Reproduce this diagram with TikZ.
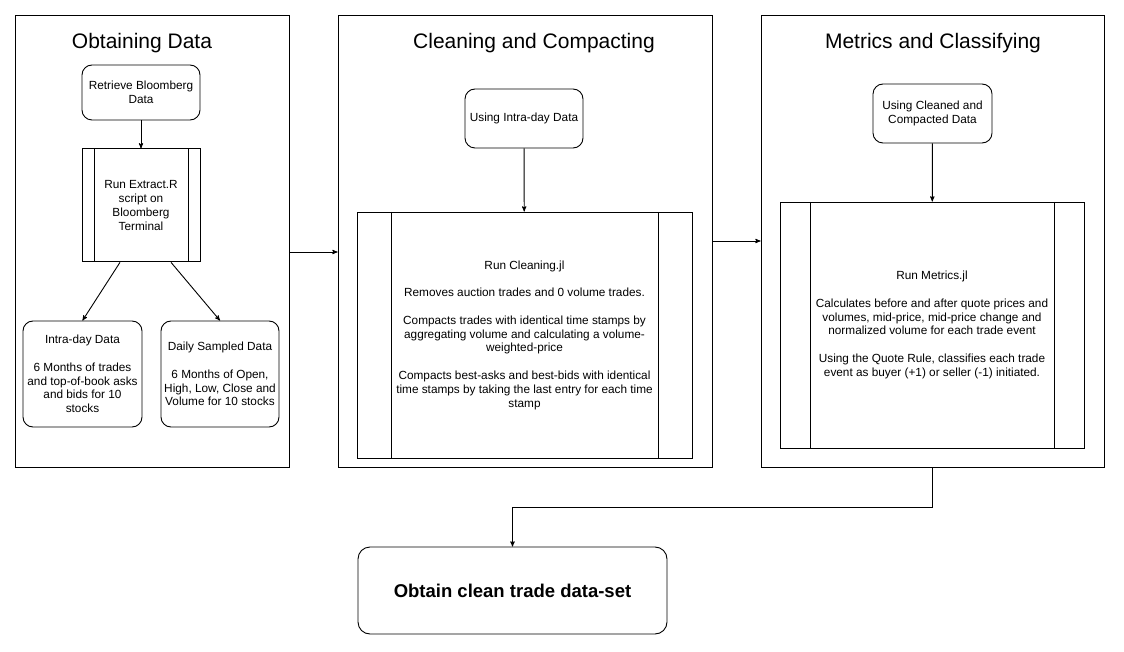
\documentclass[tikz,border=0pt]{standalone}
\usepackage{fontspec}
\setmainfont{Liberation Sans}
\usetikzlibrary{shapes, arrows}
\usetikzlibrary{positioning}

\begin{document}
\begin{tikzpicture}
[x=1pt, y=-1pt, line width=0.9pt,
stage/.style     ={rectangle, draw, minimum height=452pt, inner sep=0pt},
stagetitle/.style={font=\fontsize{21}{25}\selectfont, inner sep=0pt},
block/.style     ={rectangle, draw, rounded corners=10pt, align=center, minimum width=118pt, minimum height=57pt, font=\fontsize{11.8}{13.8}\selectfont, inner sep=2pt},
runbox/.style    ={rectangle, draw, align=center, minimum height=246pt, font=\fontsize{11.8}{13.8}\selectfont, inner sep=2pt,
                   path picture={\draw ([xshift=#1]path picture bounding box.north west) -- ([xshift=#1]path picture bounding box.south west)
                                       ([xshift=-#1]path picture bounding box.north east) -- ([xshift=-#1]path picture bounding box.south east);}},
result/.style    ={rectangle, draw, rounded corners=12pt, minimum width=309pt, minimum height=87pt, font=\bfseries\fontsize{18.5}{22}\selectfont},
line/.style      ={draw, -stealth'},
node distance = 28pt]

\useasboundingbox (0,0) rectangle (1124,652);

% the three stages
\node[stage, minimum width=274pt] (obtain) at (152,241) {};
\node[stage, minimum width=374pt] (clean) at (525,241) {};
\node[stage, minimum width=343pt] (metrics) at (932.5,241) {};

\node[stagetitle] (obtainT) at (142,43) {Obtaining Data};
\node[stagetitle] (cleanT) at (534,43) {Cleaning and Compacting};
\node[stagetitle] (metricsT) at (933,43) {Metrics and Classifying};

% obtaining data
\node[block, minimum height=55pt] (retrieve) at (141,92.5) {Retrieve Bloomberg\\Data};
\node[runbox=12pt, minimum width=118pt, minimum height=113pt, below=of retrieve] (extract) {Run Extract.R\\script on\\Bloomberg\\Terminal};
\node[block, minimum width=119pt, minimum height=106pt] (intra) at (82.5,374) {Intra-day Data\\[13.8pt]6 Months of trades\\and top-of-book asks\\and bids for 10\\stocks};
\node[block, minimum height=106pt] (daily) at (220,374) {Daily Sampled Data\\[13.8pt]6 Months of Open,\\High, Low, Close and\\Volume for 10 stocks};

% cleaning and compacting
\node[block, minimum height=59pt] (useIntra) at (524,118.5) {Using Intra-day Data};
\node[runbox=34pt, minimum width=335pt] (cleanRun) at (524.5,335) {Run Cleaning.jl\\[13.8pt]Removes auction trades and 0 volume trades.\\[13.8pt]Compacts trades with identical time stamps by\\aggregating volume and calculating a volume-\\weighted-price\\[13.8pt]Compacts best-asks and best-bids with identical\\time stamps by taking the last entry for each time\\stamp};

% metrics and classifying
\node[block, minimum width=119pt, minimum height=59pt] (useClean) at (932.5,113.5) {Using Cleaned and\\Compacted Data};
\node[runbox=30pt, minimum width=304pt] (metricsRun) at (932,325) {Run Metrics.jl\\[13.8pt]Calculates before and after quote prices and\\volumes, mid-price, mid-price change and\\normalized volume for each trade event\\[13.8pt]Using the Quote Rule, classifies each trade\\event as buyer (+1) or seller (-1) initiated.};

\node[result] (final) at (512.5,590.5) {Obtain clean trade data-set};

\path[line] (retrieve) -- (extract);
\path[line] ([xshift=-21pt]extract.south) -- (intra.north);
\path[line] ([xshift=30pt]extract.south) -- (daily.north);
\path[line] (useIntra) -- (cleanRun);
\path[line] (useClean) -- (metricsRun);
\path[line] ([yshift=-11pt]obtain.east) -- ([yshift=-11pt]clean.west);
\path[line] (clean.east) -- (metrics.west);
\path[line] (metrics.south) -- ++(0,40) -| (final.north);
\end{tikzpicture}
\end{document}
